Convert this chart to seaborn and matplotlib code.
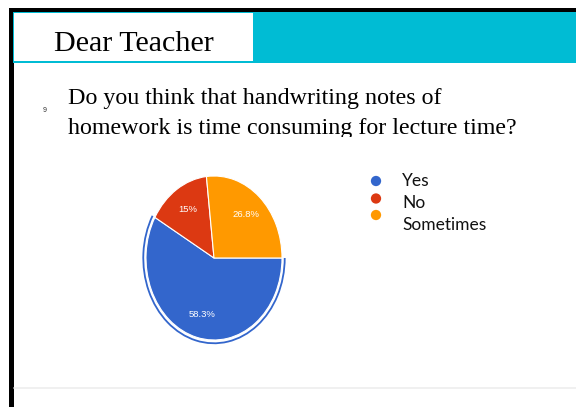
import matplotlib
matplotlib.use("Agg")
import matplotlib.pyplot as plt
from matplotlib.patches import Rectangle, Arc
import seaborn as sns

# ---- data ----
header = "Dear Teacher"
question = ["Do you think that handwriting notes of",
            "homework is time consuming for lecture time?"]
categories = ["Yes", "No", "Sometimes"]
values = [58.3, 15, 26.8]
colors_hex = ["#3366CC", "#DC3912", "#FF9900"]

sns.set_theme(style="white")
plt.rcParams['font.family'] = ['DejaVu Sans']
palette = sns.color_palette(colors_hex)

W, H = 576, 407
fig = plt.figure(figsize=(W / 100, H / 100), dpi=100)
fig.patch.set_facecolor("white")

# background axes in pixel coordinates
bg = fig.add_axes([0, 0, 1, 1])
bg.set_xlim(0, W)
bg.set_ylim(H, 0)
bg.axis("off")

# black frame lines
bg.add_patch(Rectangle((9, 8), W - 9, 4.5, color="black", lw=0, zorder=1))
bg.add_patch(Rectangle((9, 8), 4.5, H - 8, color="black", lw=0, zorder=1))
# cyan band
bg.add_patch(Rectangle((13, 12), W - 13, 51, color="#00BCD4", lw=0, zorder=1))
# white header box
bg.add_patch(Rectangle((13.5, 12.5), 239.5, 48, color="white", lw=0, zorder=2))
bg.text(54, 51, header, fontsize=21.6, family="Liberation Serif",
        color="black", ha="left", va="baseline", zorder=3)

# question text
bg.text(68, 104, question[0], fontsize=17.3, family="Liberation Serif",
        color="black", ha="left", va="baseline", zorder=3)
bg.text(68, 134, question[1], fontsize=17.3, family="Liberation Serif",
        color="black", ha="left", va="baseline", zorder=3)
bg.text(45, 111, "9", fontsize=5, family="Liberation Sans",
        color="#333333", ha="center", va="center", zorder=3)
# chart image overlapping text bottom
bg.add_patch(Rectangle((14, 137), W - 14, 250, color="white", lw=0, zorder=4))
# thin gray separator
bg.plot([13.5, W], [387.5, 387.5], color="#EEEEEE", lw=1.2, zorder=5)

# legend
leg_dot_y = [181, 198.5, 215]
leg_txt_y = [181, 203, 225]
for c, lab, dy, ty in zip(palette, categories, leg_dot_y, leg_txt_y):
    bg.scatter([376], [dy], s=55, color=c, edgecolor="none", zorder=6)
    bg.text(402, ty, lab, fontsize=12.5, family="Lato", color="#111111",
            ha="left", va="center", zorder=6)

# pie axes (elliptical pie)
cx, cy, rx, ry = 214, 258, 68, 82
pax = fig.add_axes([(cx - rx) / W, (H - (cy + ry)) / H, 2 * rx / W, 2 * ry / H])
wedges, texts, autotexts = pax.pie(
    values, colors=palette, startangle=0, counterclock=False,
    autopct="%1.1f%%", pctdistance=0.71,
    wedgeprops=dict(edgecolor="white", linewidth=0.8),
    textprops=dict(color="white", fontsize=6.8, family="Liberation Sans"))
for t, v in zip(autotexts, values):
    t.set_text(f"{v:g}%")
pax.set_aspect("auto")
pax.set_xlim(-1, 1)
pax.set_ylim(-1, 1)
pax.axis("off")

# highlight outline around the "Yes" slice
yes_end = 360 - values[0] / sum(values) * 360
pax.add_patch(Arc((0, 0), 2 * 1.04, 2 * 1.04, theta1=yes_end, theta2=360,
                  color=palette[0], lw=1.3, clip_on=False))
for w in wedges:
    w.set_clip_on(False)

fig.savefig("out.png", dpi=100, facecolor="white")
